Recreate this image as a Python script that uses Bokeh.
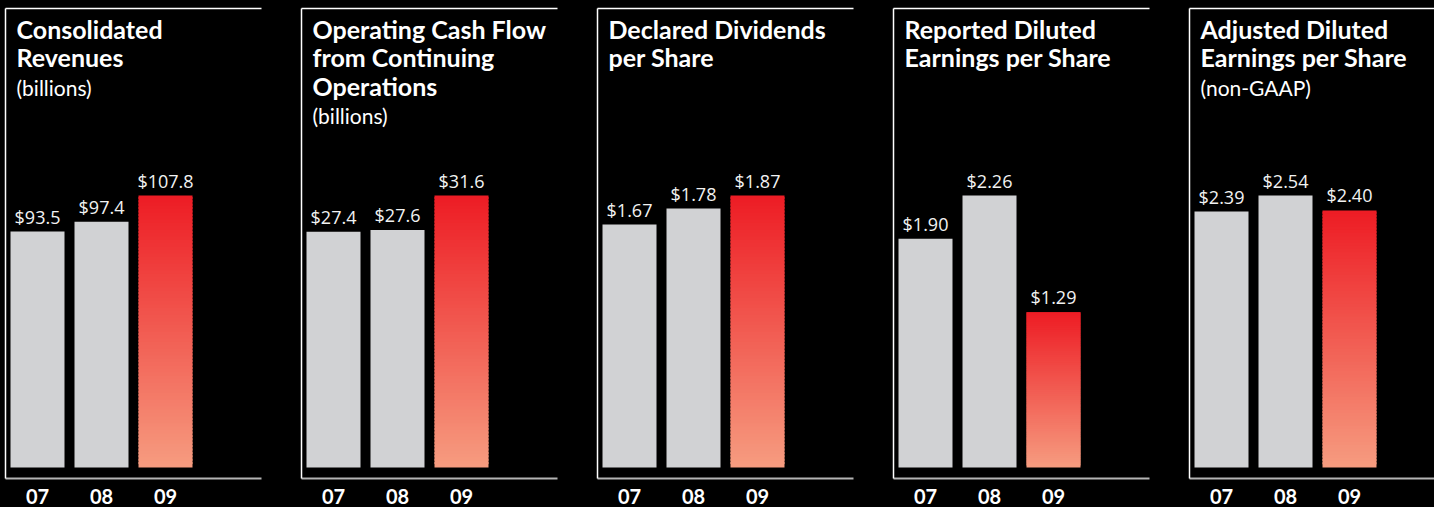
from bokeh.plotting import figure
from bokeh.models import Range1d, LinearAxis, FixedTicker, Label, ColumnDataSource
from bokeh.layouts import row
from bokeh.embed import file_html
from bokeh.resources import INLINE
from bokeh.core.properties import value

# ---------------- data ----------------
years = ["07", "08", "09"]
titles = [
    ["Consolidated", "Revenues"],
    ["Operating Cash Flow", "from Continuing", "Operations"],
    ["Declared Dividends", "per Share"],
    ["Reported Diluted", "Earnings per Share"],
    ["Adjusted Diluted", "Earnings per Share"],
]
subtitles = ["(billions)", "(billions)", "", "", "(non-GAAP)"]
revenues = [93.5, 97.4, 107.8]
cash_flow = [27.4, 27.6, 31.6]
dividends = [1.67, 1.78, 1.87]
reported_eps = [1.90, 2.26, 1.29]
adjusted_eps = [2.39, 2.54, 2.40]
series = [revenues, cash_flow, dividends, reported_eps, adjusted_eps]
decimals = [1, 1, 2, 2, 2]

# ---------------- style ----------------
BG = "#000000"
GREY_BAR = "#d1d2d4"
RED_TOP = (237, 28, 36)
RED_BOTTOM = (246, 156, 128)
TITLE_FONT = "Lato"
VALUE_FONT = "Open Sans"

PITCH = 296          # distance between panels (px)
LEFT_PAD = 5         # px from canvas edge to panel box
FRAME_W = 256        # panel box width (px)
UNIT = 64            # px per category step
TOP_PAD = 8
FRAME_H = 470        # panel box height (px)
BOTTOM_PAD = 29
ZERO_OFF = 11        # px between box bottom and bar base
MAX_PX = 272         # px height of tallest bar
WINDOW_W = 1434
N_SLICES = 80
LINE_STEP = 28.5


def hexcol(c):
    return "#%02x%02x%02x" % c


figs = []
for i, vals in enumerate(series):
    canvas_left = PITCH * i
    canvas_w = PITCH if i < 4 else WINDOW_W - canvas_left
    frame_w = min(FRAME_W, canvas_w - LEFT_PAD)
    border_right = canvas_w - LEFT_PAD - frame_w

    maxv = max(vals)
    x_start = 0.5
    x_end = x_start + frame_w / UNIT
    y_start = -maxv * ZERO_OFF / MAX_PX
    y_end = maxv * (FRAME_H - ZERO_OFF) / MAX_PX

    p = figure(
        width=canvas_w, height=TOP_PAD + FRAME_H + BOTTOM_PAD,
        x_range=Range1d(x_start, x_end), y_range=Range1d(y_start, y_end),
        x_axis_location=None, y_axis_location=None,
        toolbar_location=None, output_backend="svg",
        min_border_left=LEFT_PAD, min_border_right=border_right,
        min_border_top=TOP_PAD, min_border_bottom=BOTTOM_PAD,
        background_fill_color=BG, border_fill_color=BG,
        outline_line_color=None,
    )
    p.grid.visible = False

    # box lines: left & top white, bottom grey with year labels
    for loc in ("left", "above"):
        ax = LinearAxis(ticker=FixedTicker(ticks=[]), axis_line_color="#ffffff",
                        axis_line_width=1.5, major_tick_out=0, major_tick_in=0,
                        minor_tick_out=0, minor_tick_in=0, major_label_standoff=0,
                        major_label_text_font_size="0px")
        p.add_layout(ax, loc)
    xs = [1, 2, 3]
    xax = LinearAxis(ticker=FixedTicker(ticks=xs),
                     major_label_overrides={x: y for x, y in zip(xs, years)},
                     axis_line_color="#b4b4b4", axis_line_width=2,
                     major_tick_line_color=None, minor_tick_line_color=None,
                     major_tick_out=0, major_tick_in=0,
                     major_label_standoff=10,
                     major_label_text_line_height=0.8,
                     major_label_text_color="#ffffff",
                     major_label_text_font=TITLE_FONT,
                     major_label_text_font_style="bold",
                     major_label_text_font_size="20px")
    p.add_layout(xax, "below")

    # grey bars (07, 08)
    p.vbar(x=xs[:2], top=vals[:2], bottom=0, width=54 / UNIT,
           fill_color=GREY_BAR, line_color=None)

    # gradient red bar (09) drawn as overlapping thin slices
    v = vals[2]
    overlap = maxv * 2.0 / MAX_PX
    bottoms, tops, cols = [], [], []
    for k in range(N_SLICES):
        f0 = k / N_SLICES
        f1 = (k + 1) / N_SLICES
        bottoms.append(v * f0)
        tops.append(min(v, v * f1 + overlap))
        t = 1 - (f0 + f1) / 2
        c = tuple(int(round(RED_TOP[j] + (RED_BOTTOM[j] - RED_TOP[j]) * t)) for j in range(3))
        cols.append(hexcol(c))
    src = ColumnDataSource(dict(x=[xs[2]] * N_SLICES, bottom=bottoms, top=tops, color=cols))
    p.vbar(x="x", bottom="bottom", top="top", width=54 / UNIT, fill_color="color",
           line_color=None, source=src)

    # value labels
    fmt = "${:.%df}" % decimals[i]
    p.text(x=xs, y=vals, text=[fmt.format(x) for x in vals], y_offset=-15,
           text_align="center", text_baseline="alphabetic",
           text_color="#f2f2f2", text_font=value(VALUE_FONT),
           text_font_size="18px")

    # titles
    tx = 11
    lines = titles[i]
    base = FRAME_H - 20
    for j, line in enumerate(lines):
        p.add_layout(Label(x=tx, y=base - LINE_STEP * j, x_units="screen", y_units="screen",
                           text=line, text_color="#ffffff", text_font=TITLE_FONT,
                           text_font_style="bold", text_font_size="25px",
                           text_baseline="alphabetic", text_align="left"))
    if subtitles[i]:
        p.add_layout(Label(x=tx, y=base - LINE_STEP * (len(lines) - 1) - 30,
                           x_units="screen", y_units="screen",
                           text=subtitles[i], text_color="#ffffff", text_font=TITLE_FONT,
                           text_font_size="21px", text_baseline="alphabetic",
                           text_align="left"))
    figs.append(p)

layout = row(*figs, spacing=0, styles={"background-color": BG})
html = file_html(layout, INLINE)
html = html.replace("<body>", "<body style=\"background-color:#000000\">")
open("out.html", "w").write(html)
